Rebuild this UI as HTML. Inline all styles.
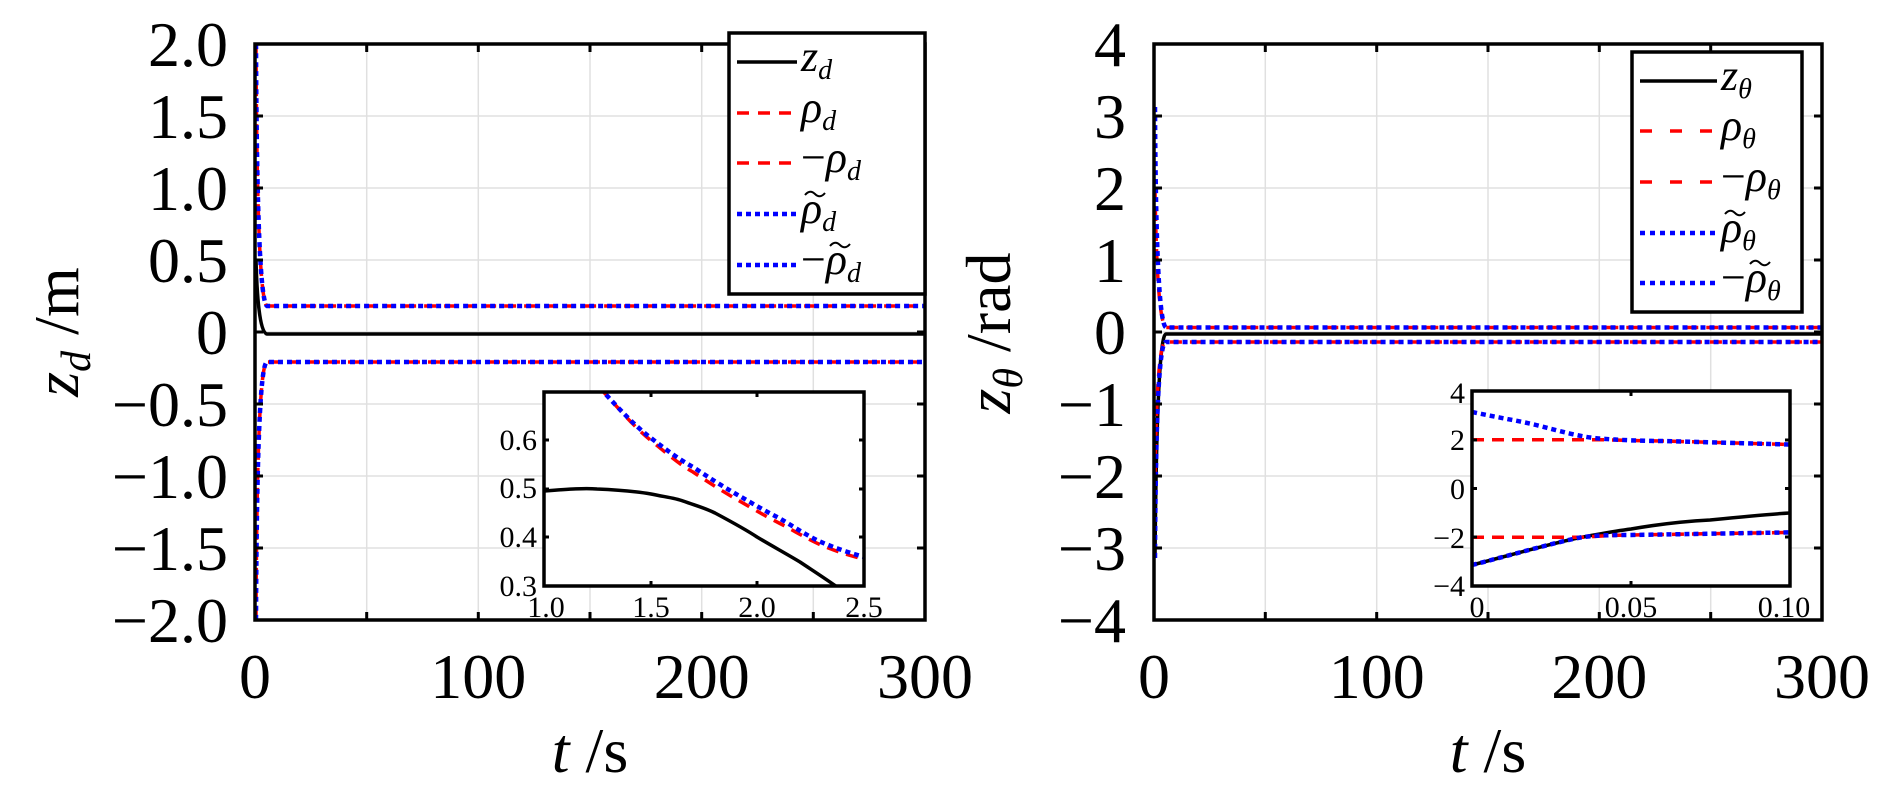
<!DOCTYPE html>
<html><head><meta charset="utf-8"><style>
html,body{margin:0;padding:0;background:#fff;}
svg{display:block;}
text{font-family:"Liberation Serif","DejaVu Serif",serif;fill:#000;}
</style></head><body>
<svg width="1890" height="790" viewBox="0 0 1890 790" xmlns="http://www.w3.org/2000/svg">
<defs>
<clipPath id="c1"><rect x="255" y="44" width="670" height="576"/></clipPath>
<clipPath id="c2"><rect x="1154" y="44" width="668" height="576"/></clipPath>
<clipPath id="i1"><rect x="544" y="392" width="320" height="194"/></clipPath>
<clipPath id="i2"><rect x="1472" y="391" width="318" height="195"/></clipPath>
</defs>

<!-- ===== LEFT PLOT ===== -->
<g stroke="#e0e0e0" stroke-width="1.5">
<line x1="366.7" y1="44" x2="366.7" y2="620"/><line x1="478.3" y1="44" x2="478.3" y2="620"/><line x1="590" y1="44" x2="590" y2="620"/><line x1="701.7" y1="44" x2="701.7" y2="620"/><line x1="813.3" y1="44" x2="813.3" y2="620"/>
<line x1="255" y1="116" x2="925" y2="116"/><line x1="255" y1="188" x2="925" y2="188"/><line x1="255" y1="260" x2="925" y2="260"/><line x1="255" y1="332" x2="925" y2="332"/><line x1="255" y1="404" x2="925" y2="404"/><line x1="255" y1="476" x2="925" y2="476"/><line x1="255" y1="548" x2="925" y2="548"/>
</g>
<g clip-path="url(#c1)" fill="none">
<path d="M256,260 Q258,333 267,334 L925,334" stroke="#000" stroke-width="3.5"/>
<path d="M256,44 Q257,300 267,306 L925,306" stroke="#f00" stroke-width="3.5" stroke-dasharray="12 8"/>
<path d="M256,620 Q257,364 267,362 L925,362" stroke="#f00" stroke-width="3.5" stroke-dasharray="12 8"/>
<path d="M256,44 Q257,300 267,306 L925,306" stroke="#00f" stroke-width="4.5" stroke-dasharray="5 4"/>
<path d="M256,620 Q257,364 267,362 L925,362" stroke="#00f" stroke-width="4.5" stroke-dasharray="5 4"/>
</g>
<rect x="255" y="44" width="670" height="576" fill="none" stroke="#000" stroke-width="3.5"/>
<g stroke="#000" stroke-width="3">
<path d="M366.7,44v8M478.3,44v8M590,44v8M701.7,44v8M813.3,44v8M366.7,620v-8M478.3,620v-8M590,620v-8M701.7,620v-8M813.3,620v-8"/>
<path d="M255,116h8M255,188h8M255,260h8M255,332h8M255,404h8M255,476h8M255,548h8M925,116h-8M925,188h-8M925,260h-8M925,332h-8M925,404h-8M925,476h-8M925,548h-8"/>
</g>
<g font-size="64" text-anchor="end">
<text x="228" y="66">2.0</text><text x="228" y="138">1.5</text><text x="228" y="210">1.0</text><text x="228" y="282">0.5</text><text x="228" y="354">0</text><text x="228" y="426">−0.5</text><text x="228" y="498">−1.0</text><text x="228" y="570">−1.5</text><text x="228" y="642">−2.0</text>
</g>
<g font-size="64" text-anchor="middle">
<text x="255" y="698">0</text><text x="478.3" y="698">100</text><text x="701.7" y="698">200</text><text x="925" y="698">300</text>
</g>
<text x="590" y="772" font-size="64" text-anchor="middle"><tspan font-style="italic">t</tspan> /s</text>
<text transform="translate(78,332) rotate(-90)" font-size="64" text-anchor="middle"><tspan font-style="italic">z</tspan><tspan font-style="italic" font-size="42" dy="12">d</tspan><tspan dy="-12"> /m</tspan></text>

<!-- left legend -->
<rect x="729" y="33" width="196" height="261" fill="#fff" stroke="#000" stroke-width="3.5"/>
<line x1="737" y1="62" x2="797" y2="62" stroke="#000" stroke-width="3.5"/>
<line x1="737" y1="113" x2="797" y2="113" stroke="#f00" stroke-width="3.5" stroke-dasharray="12 9"/>
<line x1="737" y1="163" x2="797" y2="163" stroke="#f00" stroke-width="3.5" stroke-dasharray="12 9"/>
<line x1="737" y1="214" x2="797" y2="214" stroke="#00f" stroke-width="4.5" stroke-dasharray="5 4"/>
<line x1="737" y1="265" x2="797" y2="265" stroke="#00f" stroke-width="4.5" stroke-dasharray="5 4"/>
<g font-size="44" font-style="italic">
<text x="801" y="71">z<tspan font-size="28" dy="8">d</tspan></text>
<text x="801" y="122">ρ<tspan font-size="28" dy="8">d</tspan></text>
<text x="801" y="172"><tspan font-style="normal">−</tspan>ρ<tspan font-size="28" dy="8">d</tspan></text>
<text x="801" y="223">ρ<tspan font-size="28" dy="8">d</tspan></text>
<text x="801" y="274"><tspan font-style="normal">−</tspan>ρ<tspan font-size="28" dy="8">d</tspan></text>
</g>
<g fill="none" stroke="#000" stroke-width="2">
<path d="M805,195 q5,-6 10,-1 t10,-1"/>
<path d="M830,246 q5,-6 10,-1 t10,-1"/>
</g>

<!-- left inset -->
<rect x="544" y="392" width="320" height="194" fill="#fff"/>
<g clip-path="url(#i1)" fill="none">
<path d="M544,491 C570,489 585,488 597,489 C620,490 640,492 651,494 C665,497 675,498 683,501 C697,506 705,508 715,513 C730,521 745,529 757,537 C772,546 785,553 800,562 C815,572 826,579 840,589" stroke="#000" stroke-width="3.5"/>
<path d="M600,388 C620,410 635,428 651,440.5 C665,452 680,465 693,472 C708,482 722,491 736,499 C750,507 765,516 779,523 C793,530 807,539 821,545 C835,551 850,556 864,559" stroke="#f00" stroke-width="3.5" stroke-dasharray="12 8"/>
<path d="M600,388 C620,410 635,426 651,438 C665,449 680,460 693,467 C708,477 722,486 736,494 C750,502 765,511 779,518 C793,526 807,536 821,542 C835,548 850,553 864,557" stroke="#00f" stroke-width="4.5" stroke-dasharray="5 4"/>
</g>
<rect x="544" y="392" width="320" height="194" fill="none" stroke="#000" stroke-width="3.5"/>
<g stroke="#000" stroke-width="3">
<path d="M651,392v5M757,392v5M651,586v-5M757,586v-5M544,440h5M544,489h5M544,537h5M864,440h-5M864,489h-5M864,537h-5"/>
</g>
<g font-size="30" text-anchor="end">
<text x="537" y="450">0.6</text><text x="537" y="498">0.5</text><text x="537" y="547">0.4</text><text x="537" y="596">0.3</text>
</g>
<g font-size="30" text-anchor="middle">
<text x="546" y="617">1.0</text><text x="651" y="617">1.5</text><text x="757" y="617">2.0</text><text x="864" y="617">2.5</text>
</g>

<!-- ===== RIGHT PLOT ===== -->
<g stroke="#e0e0e0" stroke-width="1.5">
<line x1="1265.3" y1="44" x2="1265.3" y2="620"/><line x1="1376.7" y1="44" x2="1376.7" y2="620"/><line x1="1488" y1="44" x2="1488" y2="620"/><line x1="1599.3" y1="44" x2="1599.3" y2="620"/><line x1="1710.7" y1="44" x2="1710.7" y2="620"/>
<line x1="1154" y1="116" x2="1822" y2="116"/><line x1="1154" y1="188" x2="1822" y2="188"/><line x1="1154" y1="260" x2="1822" y2="260"/><line x1="1154" y1="332" x2="1822" y2="332"/><line x1="1154" y1="404" x2="1822" y2="404"/><line x1="1154" y1="476" x2="1822" y2="476"/><line x1="1154" y1="548" x2="1822" y2="548"/>
</g>
<g clip-path="url(#c2)" fill="none">
<path d="M1155,558 Q1157,334 1166,334 L1822,334" stroke="#000" stroke-width="3.5"/>
<path d="M1155,189 Q1157,322 1166,327.5 L1822,327.5" stroke="#f00" stroke-width="3.5" stroke-dasharray="12 8"/>
<path d="M1155,476 Q1157,338 1166,342 L1822,342" stroke="#f00" stroke-width="3.5" stroke-dasharray="12 8"/>
<path d="M1155,107 Q1156,322 1166,327.5 L1822,327.5" stroke="#00f" stroke-width="4.5" stroke-dasharray="5 4"/>
<path d="M1155,558 Q1156,340 1166,342 L1822,342" stroke="#00f" stroke-width="4.5" stroke-dasharray="5 4"/>
</g>
<rect x="1154" y="44" width="668" height="576" fill="none" stroke="#000" stroke-width="3.5"/>
<g stroke="#000" stroke-width="3">
<path d="M1265.3,44v8M1376.7,44v8M1488,44v8M1599.3,44v8M1710.7,44v8M1265.3,620v-8M1376.7,620v-8M1488,620v-8M1599.3,620v-8M1710.7,620v-8"/>
<path d="M1154,116h8M1154,188h8M1154,260h8M1154,332h8M1154,404h8M1154,476h8M1154,548h8M1822,116h-8M1822,188h-8M1822,260h-8M1822,332h-8M1822,404h-8M1822,476h-8M1822,548h-8"/>
</g>
<g font-size="64" text-anchor="end">
<text x="1126" y="66">4</text><text x="1126" y="138">3</text><text x="1126" y="210">2</text><text x="1126" y="282">1</text><text x="1126" y="354">0</text><text x="1126" y="426">−1</text><text x="1126" y="498">−2</text><text x="1126" y="570">−3</text><text x="1126" y="642">−4</text>
</g>
<g font-size="64" text-anchor="middle">
<text x="1154" y="698">0</text><text x="1376.7" y="698">100</text><text x="1599.3" y="698">200</text><text x="1822" y="698">300</text>
</g>
<text x="1488" y="772" font-size="64" text-anchor="middle"><tspan font-style="italic">t</tspan> /s</text>
<text transform="translate(1010,333) rotate(-90)" font-size="64" text-anchor="middle"><tspan font-style="italic">z</tspan><tspan font-style="italic" font-size="42" dy="12">θ</tspan><tspan dy="-12"> /rad</tspan></text>

<!-- right legend -->
<rect x="1632" y="52" width="170" height="260" fill="#fff" stroke="#000" stroke-width="3.5"/>
<line x1="1640" y1="81" x2="1717" y2="81" stroke="#000" stroke-width="3.5"/>
<line x1="1640" y1="131" x2="1717" y2="131" stroke="#f00" stroke-width="3.5" stroke-dasharray="12 18"/>
<line x1="1640" y1="182" x2="1717" y2="182" stroke="#f00" stroke-width="3.5" stroke-dasharray="12 18"/>
<line x1="1640" y1="233" x2="1717" y2="233" stroke="#00f" stroke-width="4.5" stroke-dasharray="5 5"/>
<line x1="1640" y1="283" x2="1717" y2="283" stroke="#00f" stroke-width="4.5" stroke-dasharray="5 5"/>
<g font-size="44" font-style="italic">
<text x="1721" y="90">z<tspan font-size="28" dy="8">θ</tspan></text>
<text x="1721" y="140">ρ<tspan font-size="28" dy="8">θ</tspan></text>
<text x="1721" y="191"><tspan font-style="normal">−</tspan>ρ<tspan font-size="28" dy="8">θ</tspan></text>
<text x="1721" y="242">ρ<tspan font-size="28" dy="8">θ</tspan></text>
<text x="1721" y="292"><tspan font-style="normal">−</tspan>ρ<tspan font-size="28" dy="8">θ</tspan></text>
</g>
<g fill="none" stroke="#000" stroke-width="2">
<path d="M1725,214 q5,-6 10,-1 t10,-1"/>
<path d="M1750,264 q5,-6 10,-1 t10,-1"/>
</g>

<!-- right inset -->
<rect x="1472" y="391" width="318" height="195" fill="#fff"/>
<g clip-path="url(#i2)" fill="none">
<path d="M1472,565 C1500,558 1560,541 1583,537 C1600,534 1615,531 1631,529 C1660,524 1690,521 1710,520 C1740,517 1770,514 1790,513" stroke="#000" stroke-width="3.5"/>
<path d="M1472,439.7 L1599,439.7 C1620,440 1640,441 1663,441 L1790,444.5" stroke="#f00" stroke-width="3.5" stroke-dasharray="12 8"/>
<path d="M1472,537.3 L1583,537.3 C1600,536 1615,535 1631,535 L1790,532.4" stroke="#f00" stroke-width="3.5" stroke-dasharray="12 8"/>
<path d="M1472,412 C1500,418 1520,421 1536,425 C1560,431 1580,437 1599,438.5 C1620,440 1640,441 1663,441 L1790,444.5" stroke="#00f" stroke-width="4.5" stroke-dasharray="5 4"/>
<path d="M1472,565 C1500,558 1560,541 1583,537 C1600,535 1615,535 1631,535 L1790,532.4" stroke="#00f" stroke-width="4.5" stroke-dasharray="5 4"/>
</g>
<rect x="1472" y="391" width="318" height="195" fill="none" stroke="#000" stroke-width="3.5"/>
<g stroke="#000" stroke-width="3">
<path d="M1631,391v5M1631,586v-5M1472,440h5M1472,488.5h5M1472,537h5M1790,440h-5M1790,488.5h-5M1790,537h-5"/>
</g>
<g font-size="30" text-anchor="end">
<text x="1465" y="403">4</text><text x="1465" y="450">2</text><text x="1465" y="499">0</text><text x="1465" y="548">−2</text><text x="1465" y="596">−4</text>
</g>
<g font-size="30" text-anchor="middle">
<text x="1477" y="617">0</text><text x="1631" y="617">0.05</text><text x="1784" y="617">0.10</text>
</g>
</svg>
</body></html>
